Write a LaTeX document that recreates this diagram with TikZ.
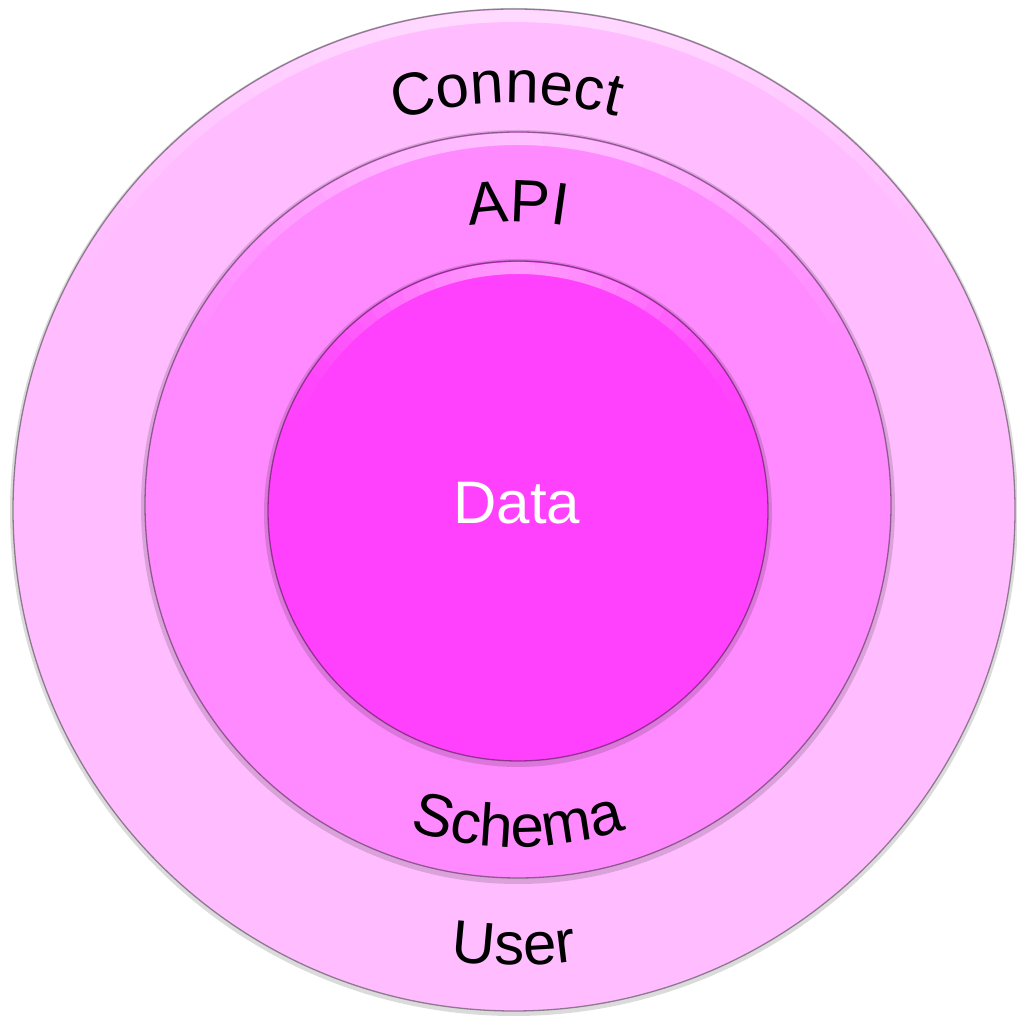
\documentclass[tikz,border=0pt]{standalone}
\usepackage{fontspec}
\setmainfont{Liberation Sans}
\usetikzlibrary{decorations.text,calc}

\definecolor{ringuser}{RGB}{255,188,255}
\definecolor{ringschema}{RGB}{255,138,255}
\definecolor{coredata}{RGB}{255,64,252}
\newcommand{\arcfont}{\fontsize{60}{60}\selectfont}

% soft white highlight just inside the upper rim of a disk:
% #1 centre, #2 radius of the highlight band
\newcommand{\rimsheen}[2]{%
  \foreach \a in {10,14,...,166}{%
    \pgfmathsetmacro{\op}{0.45*(sin(\a+2))^4}%
    \draw[white, line width=12, opacity=\op]
      (#1) ++(\a:#2) arc[start angle=\a, end angle=\a+4, radius=#2];
  }%
}

\tikzset{
  disk shadow/.style={fill=black, opacity=.14},
  disk edge/.style={draw=black, opacity=.4, line width=1.3},
  arc label/.style={decorate, decoration={text along path, text align=center,
      text color=black, text={|\arcfont|#1}}},
  core label/.style={text=white, font=\fontsize{60}{60}\selectfont},
}

\begin{document}
\begin{tikzpicture}[x=1pt, y=1pt]
  \useasboundingbox[fill=white] (0,0) rectangle (1017,1016);

  % centres of the three rings
  \coordinate (uc) at (514,506);
  \coordinate (sc) at (518,511);
  \coordinate (dc) at (518,505);

  % outer ring: User / Connect
  \fill[disk shadow] ($(uc)+(0,-2)$) circle[radius=504];
  \fill[ringuser] (uc) circle[radius=501];
  \rimsheen{uc}{494}
  \draw[disk edge] (uc) circle[radius=501];

  % middle ring: Schema / API
  \fill[disk shadow] ($(sc)+(0,-2)$) circle[radius=377];
  \fill[ringschema] (sc) circle[radius=373];
  \rimsheen{sc}{366}
  \draw[disk edge] (sc) circle[radius=373];

  % core: Data
  \fill[disk shadow] ($(dc)+(0,-2)$) circle[radius=254];
  \fill[coredata] (dc) circle[radius=250];
  \rimsheen{dc}{243}
  \draw[disk edge] (dc) circle[radius=250];

  % curved labels
  \path[arc label=Connect] (uc) ++(121:407) arc[start angle=121, end angle=61, radius=407];
  \path[arc label=API] (sc) ++(120:283) arc[start angle=120, end angle=60, radius=283];
  \path[arc label=Schema] (sc) ++(240:342) arc[start angle=240, end angle=300, radius=342];
  \path[arc label=User] (uc) ++(245:455) arc[start angle=245, end angle=295, radius=455];

  \node[core label] (data) at (517,513) {Data};
\end{tikzpicture}
\end{document}
